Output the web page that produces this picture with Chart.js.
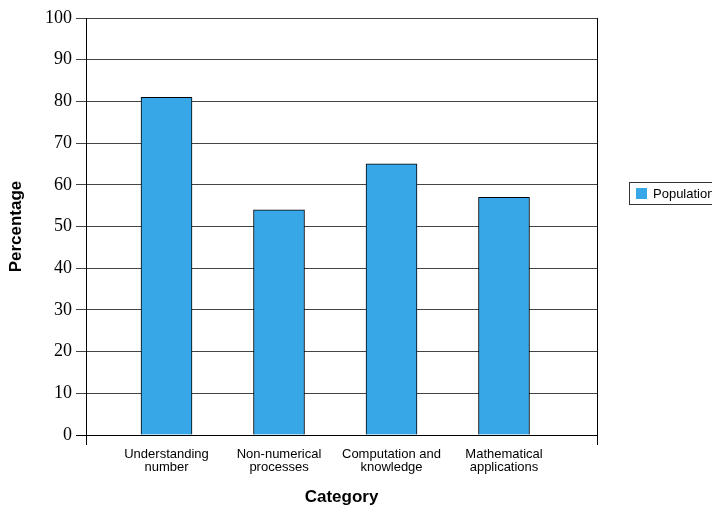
<!DOCTYPE html>
<html>
<head>
<meta charset="utf-8">
<script src="https://cdn.jsdelivr.net/npm/chart.js@4/dist/chart.umd.min.js"></script>
<style>
  html, body { margin: 0; padding: 0; background: #ffffff; overflow: hidden; }
  #wrap { width: 712px; height: 509px; position: relative; }
</style>
</head>
<body>
<div id="wrap"><canvas id="c" width="712" height="509"></canvas></div>
<script>
// ---- data ----
const categories = [
  ["Understanding", "number"],
  ["Non-numerical", "processes"],
  ["Computation and", "knowledge"],
  ["Mathematical", "applications"]
];
const values = [81, 54, 65, 57];
const seriesLabel = "Population";
const yAxisTitle = "Percentage";
const xAxisTitle = "Category";
const yMin = 0, yMax = 100, yStep = 10;

// ---- layout / style ----
const xMin = -0.7156, xMax = 3.8267;
const barColor = "#38a7e8";

const legendPlugin = {
  id: "boxLegend",
  afterDraw(chart) {
    const ctx = chart.ctx;
    const ca = chart.chartArea;
    const ds = chart.data.datasets[0];
    const x = ca.right + 32.5, y = ca.top + 164.5, h = 22;
    ctx.save();
    ctx.font = "13px 'Liberation Sans', Arial, sans-serif";
    const tw = ctx.measureText(ds.label).width;
    ctx.fillStyle = "#ffffff";
    ctx.fillRect(x, y, tw + 32, h);
    ctx.strokeStyle = "#333333";
    ctx.lineWidth = 1;
    ctx.strokeRect(x, y, tw + 32, h);
    ctx.fillStyle = ds.backgroundColor;
    ctx.fillRect(x + 6.5, y + 5.5, 11, 11);
    ctx.fillStyle = "#000000";
    ctx.textBaseline = "middle";
    ctx.textAlign = "left";
    ctx.fillText(ds.label, x + 23.5, y + h / 2 + 0.5);
    ctx.restore();
  }
};

new Chart(document.getElementById("c"), {
  type: "bar",
  data: {
    datasets: [{
      label: seriesLabel,
      data: values.map((v, i) => ({ x: i, y: v })),
      backgroundColor: barColor,
      borderColor: "#000000",
      borderWidth: 1,
      barThickness: 51
    }]
  },
  options: {
    responsive: false,
    animation: false,
    devicePixelRatio: 1,
    layout: { padding: { top: 18, right: 115, bottom: 0, left: 0 } },
    plugins: {
      legend: { display: false },
      tooltip: { enabled: false }
    },
    scales: {
      x: {
        type: "linear",
        min: xMin,
        max: xMax,
        offset: false,
        afterBuildTicks(scale) {
          scale.ticks = [xMin].concat(categories.map((c, i) => i), [xMax]).map(v => ({ value: v }));
        },
        afterFit(scale) { scale.height = 74; },
        grid: {
          offset: false,
          drawOnChartArea: true,
          drawTicks: true,
          tickLength: 10,
          color: (c) => (c.tick && (c.tick.value === xMin || c.tick.value === xMax)) ? "#000000" : "rgba(0,0,0,0)",
          lineWidth: 1
        },
        border: { display: true, color: "#000000", width: 1 },
        ticks: {
          autoSkip: false,
          maxRotation: 0,
          minRotation: 0,
          padding: 3,
          color: "#000000",
          font: { family: "'Liberation Sans', Arial, sans-serif", size: 13, lineHeight: 1.0 },
          callback: (v) => (Number.isInteger(v) && categories[v]) ? categories[v] : ""
        },
        title: {
          display: true,
          text: xAxisTitle,
          color: "#000000",
          font: { family: "'Liberation Sans', Arial, sans-serif", size: 17, weight: "bold" },
          padding: { top: 0, bottom: 1 }
        }
      },
      y: {
        min: yMin,
        max: yMax,
        afterFit(scale) { scale.width = 86; },
        grid: {
          color: (c) => (c.tick && c.tick.value === 0) ? "#000000" : "#444444",
          lineWidth: 1,
          drawTicks: true,
          tickLength: 10
        },
        border: { display: true, color: "#000000", width: 1 },
        ticks: {
          stepSize: yStep,
          padding: 4,
          color: "#000000",
          font: { family: "'Liberation Serif', 'Times New Roman', serif", size: 18 }
        },
        title: {
          display: true,
          text: yAxisTitle,
          color: "#000000",
          font: { family: "'Liberation Sans', Arial, sans-serif", size: 17, weight: "bold" },
          padding: { top: 6, bottom: 0 }
        }
      }
    }
  },
  plugins: [legendPlugin]
});
</script>
</body>
</html>
